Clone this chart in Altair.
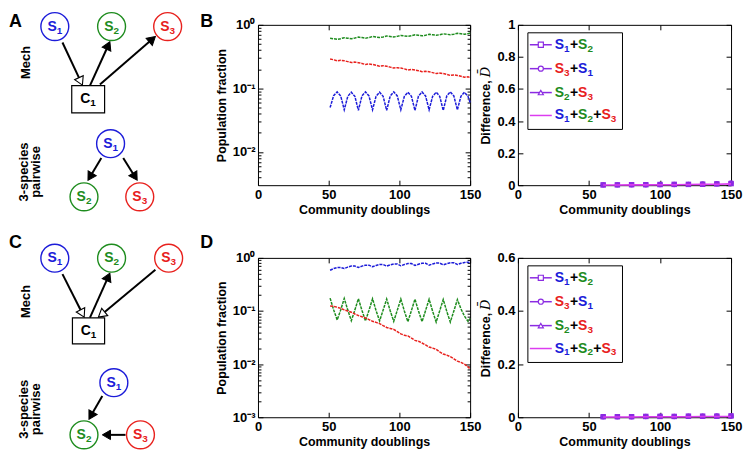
import math
import altair as alt
import pandas as pd

FONT = "Liberation Sans"
BLUE = "#1c1cd9"
GREEN = "#1e8c1e"
RED = "#e8211d"
PURPLE = "#8b2be2"
MAGENTA = "#dc3cf0"
SPC = {"1": BLUE, "2": GREEN, "3": RED}

# ---------------- data ----------------
T = [51, 53.5, 56, 58.5, 61, 63.5, 66, 68.5, 71, 73.5, 76, 78.5, 81, 83.5, 86, 88.5,
     91, 93.5, 96, 98.5, 101, 103.5, 106, 108.5, 111, 113.5, 116, 118.5, 121, 123.5,
     126, 128.5, 131, 133.5, 136, 138.5, 141, 143.5, 146, 148.5, 150]

B_S1 = [0.050, 0.077, 0.088, 0.076, 0.046, 0.075, 0.087, 0.075, 0.045, 0.076, 0.088, 0.076,
        0.046, 0.075, 0.087, 0.075, 0.045, 0.076, 0.088, 0.076, 0.046, 0.075, 0.087, 0.075,
        0.045, 0.076, 0.088, 0.076, 0.046, 0.075, 0.087, 0.075, 0.045, 0.076, 0.088, 0.076,
        0.046, 0.075, 0.087, 0.075, 0.060]
B_S2 = [0.615, 0.604, 0.592, 0.606, 0.628, 0.617, 0.605, 0.619, 0.641, 0.630, 0.618, 0.632,
        0.655, 0.643, 0.631, 0.645, 0.668, 0.657, 0.644, 0.659, 0.682, 0.670, 0.658, 0.672,
        0.695, 0.684, 0.671, 0.686, 0.709, 0.697, 0.685, 0.699, 0.722, 0.711, 0.698, 0.713,
        0.736, 0.724, 0.712, 0.727, 0.745]
B_S3 = [0.290, 0.282, 0.272, 0.276, 0.272, 0.264, 0.255, 0.259, 0.254, 0.247, 0.238, 0.242,
        0.238, 0.231, 0.223, 0.227, 0.223, 0.216, 0.209, 0.212, 0.209, 0.203, 0.195, 0.199,
        0.195, 0.190, 0.183, 0.186, 0.183, 0.177, 0.171, 0.174, 0.171, 0.166, 0.160, 0.163,
        0.160, 0.155, 0.150, 0.152, 0.148]

D_S1 = [0.585, 0.63, 0.66, 0.66, 0.63, 0.67, 0.70, 0.70, 0.66, 0.70, 0.73, 0.73,
        0.68, 0.72, 0.75, 0.75, 0.70, 0.74, 0.77, 0.77, 0.71, 0.75, 0.78, 0.78,
        0.72, 0.76, 0.79, 0.79, 0.73, 0.77, 0.80, 0.80, 0.74, 0.78, 0.81, 0.81,
        0.75, 0.79, 0.82, 0.83, 0.81]
D_S2 = [0.175, 0.105, 0.068, 0.105, 0.172, 0.104, 0.066, 0.104, 0.170, 0.103, 0.065, 0.103,
        0.170, 0.102, 0.065, 0.104, 0.168, 0.101, 0.064, 0.103, 0.168, 0.100, 0.063, 0.102,
        0.167, 0.100, 0.063, 0.102, 0.166, 0.099, 0.062, 0.101, 0.165, 0.098, 0.062, 0.100,
        0.164, 0.110, 0.080, 0.064, 0.072]
D_S3 = [0.124, 0.122, 0.118, 0.112, 0.105, 0.100, 0.095, 0.088, 0.082, 0.078, 0.074, 0.069,
        0.064, 0.061, 0.058, 0.053, 0.049, 0.047, 0.045, 0.041, 0.037, 0.035, 0.034, 0.031,
        0.028, 0.027, 0.025, 0.023, 0.021, 0.020, 0.019, 0.017, 0.0155, 0.0148, 0.0138, 0.0126,
        0.0114, 0.0108, 0.0100, 0.0089, 0.0080]

TD = [60, 70, 80, 90, 100, 110, 120, 130, 140, 150]
B_D12 = [0.002, 0.002, 0.003, 0.003, 0.004, 0.005, 0.005, 0.006, 0.008, 0.010]
B_D31 = [0.002, 0.002, 0.002, 0.003, 0.004, 0.004, 0.005, 0.007, 0.009, 0.014]
B_D23 = [0.002, 0.003, 0.003, 0.004, 0.005, 0.005, 0.006, 0.007, 0.009, 0.011]
B_D123 = [0.001, 0.001, 0.002, 0.002, 0.003, 0.003, 0.004, 0.005, 0.006, 0.008]
D_D12 = [0.002, 0.002, 0.002, 0.003, 0.003, 0.003, 0.004, 0.004, 0.004, 0.005]
D_D31 = [0.002, 0.002, 0.002, 0.003, 0.004, 0.003, 0.004, 0.004, 0.005, 0.005]
D_D23 = [0.002, 0.002, 0.003, 0.003, 0.004, 0.004, 0.004, 0.005, 0.005, 0.006]
D_D123 = [0.001, 0.001, 0.001, 0.002, 0.002, 0.002, 0.002, 0.003, 0.003, 0.003]

LEGEND_LABELS = ["S1+S2", "S3+S1", "S2+S3", "S1+S2+S3"]
LEGEND_SHAPES = ["square", "circle", "triangle-up", ""]

XTICKS = [0, 50, 100, 150]
B_MAJOR = [0.01, 0.1, 1]
B_MINOR = [0.004, 0.005, 0.006, 0.007, 0.008, 0.009, 0.02, 0.03, 0.04, 0.05, 0.06, 0.07,
           0.08, 0.09, 0.2, 0.3, 0.4, 0.5, 0.6, 0.7, 0.8, 0.9]
D_MAJOR = [0.001, 0.01, 0.1, 1]
D_MINOR = [0.002, 0.003, 0.004, 0.005, 0.006, 0.007, 0.008, 0.009, 0.02, 0.03, 0.04, 0.05,
           0.06, 0.07, 0.08, 0.09, 0.2, 0.3, 0.4, 0.5, 0.6, 0.7, 0.8, 0.9]

# diagram contents (panel-local units: 1 unit = 1 px, y downward)
A_NODES = [("1", BLUE, 46, 1.7), ("2", GREEN, 103, 1.7), ("3", RED, 159.3, 1.7),
           ("1", BLUE, 102, 119.3), ("2", GREEN, 75.3, 172.7), ("3", RED, 131.3, 172.7)]
A_BOX = (63, 61, 96, 88.3)
A_ARROWS = [(53.7, 17.7, 73.7, 60.5, "open"), (81.3, 61, 101.3, 17, "fill"),
            (91.3, 60, 147, 11.7, "fill"), (92.7, 133.7, 79.3, 156, "fill"),
            (114.7, 133.7, 128.7, 156, "fill")]
A_SIDE = [("Mech", 17, 37.7), ("3-species", 15.3, 147.7), ("pairwise", 27.3, 147.7)]
A_LETTERS = [("A", 0, -12), ("B", 192, -12)]

C_NODES = [("1", BLUE, 46, 0.3), ("2", GREEN, 103, 0.3), ("3", RED, 160.3, 0.3),
           ("1", BLUE, 105.3, 125.3), ("2", GREEN, 75.3, 177.7), ("3", RED, 132, 177.7)]
C_BOX = (63.7, 60.3, 96, 86.3)
C_ARROWS = [(53.7, 16.3, 75.5, 59.5, "open"), (81.3, 60, 101.3, 15.3, "fill"),
            (147, 12, 89.8, 59.5, "open"), (93.7, 138.7, 80.3, 162, "fill"),
            (117, 177.7, 93.7, 177.7, "fill")]
C_SIDE = [("Mech", 17, 43.7), ("3-species", 15.3, 152), ("pairwise", 27.3, 152)]
C_LETTERS = [("C", 0, -24), ("D", 192, -24)]

# ---------------- layout ----------------
W_DIA, W_POP, W_DIF = 202, 213, 214
H_TOP, H_BOT = 161, 160
HEAD_SIZE = 90


def diagram(nodes, box, arrows, sides, letters, H):
    W = W_DIA
    xs = alt.Scale(domain=[0, W], nice=False, zero=False)
    ys = alt.Scale(domain=[0, H], nice=False, zero=False, reverse=True)

    def X(f):
        return alt.X(f, type="quantitative", scale=xs, axis=None)

    def Y(f):
        return alt.Y(f, type="quantitative", scale=ys, axis=None)

    r = math.sqrt(HEAD_SIZE) / 2
    h = math.sqrt(3) * r / 2
    shafts, heads = [], []
    for (x1, y1, x2, y2, kind) in arrows:
        dx, dy = x2 - x1, y2 - y1
        L = math.hypot(dx, dy)
        ux, uy = dx / L, dy / L
        shafts.append(dict(x=x1, y=y1, x2=x2 - 1.8 * h * ux, y2=y2 - 1.8 * h * uy))
        ang = math.degrees(math.atan2(dx, -dy)) % 360
        heads.append(dict(x=x2 - h * ux, y=y2 - h * uy, ang=ang, kind=kind))
    shafts = pd.DataFrame(shafts)
    heads = pd.DataFrame(heads)

    l_shaft = alt.Chart(shafts).mark_rule(color="black", strokeWidth=2).encode(
        x=X("x"), y=Y("y"), x2="x2:Q", y2="y2:Q")
    l_hfill = alt.Chart(heads[heads.kind == "fill"]).mark_point(
        shape="triangle-up", size=HEAD_SIZE, filled=True, fill="black", stroke="black",
        strokeWidth=1, opacity=1).encode(x=X("x"), y=Y("y"), angle=alt.Angle("ang:Q", scale=None))
    l_hopen = alt.Chart(heads[heads.kind == "open"]).mark_point(
        shape="triangle-up", size=HEAD_SIZE, filled=True, fill="white", stroke="black",
        strokeWidth=1.1, opacity=1).encode(x=X("x"), y=Y("y"), angle=alt.Angle("ang:Q", scale=None))

    bdf = pd.DataFrame([dict(x=box[0], y=box[1], x2=box[2], y2=box[3])])
    l_box = alt.Chart(bdf).mark_rect(fill="white", stroke="black", strokeWidth=1.2).encode(
        x=X("x"), y=Y("y"), x2="x2:Q", y2="y2:Q")

    ndf = pd.DataFrame([dict(x=n[2], y=n[3], col=n[1], sub=n[0]) for n in nodes])
    l_circ = alt.Chart(ndf).mark_point(shape="circle", size=784, filled=True, fill="white",
                                       strokeWidth=1.4, opacity=1).encode(
        x=X("x"), y=Y("y"), stroke=alt.Stroke("col:N", scale=None))

    labs = []
    for n in nodes:
        labs.append(dict(x=n[2] + 1.9, y=n[3], t="S", col=n[1], big=1))
        labs.append(dict(x=n[2] + 1.9, y=n[3] + 4, t=n[0], col=n[1], big=0))
    bx, by = (box[0] + box[2]) / 2, (box[1] + box[3]) / 2
    labs.append(dict(x=bx + 2.2, y=by, t="C", col="black", big=1))
    labs.append(dict(x=bx + 2.2, y=by + 4, t="1", col="black", big=0))
    ldf = pd.DataFrame(labs)
    l_big = alt.Chart(ldf[ldf.big == 1]).mark_text(
        font=FONT, fontWeight="bold", fontSize=14, align="right", baseline="middle").encode(
        x=X("x"), y=Y("y"), text="t:N", color=alt.Color("col:N", scale=None))
    l_sub = alt.Chart(ldf[ldf.big == 0]).mark_text(
        font=FONT, fontWeight="bold", fontSize=10, align="left", baseline="middle").encode(
        x=X("x"), y=Y("y"), text="t:N", color=alt.Color("col:N", scale=None))

    sdf = pd.DataFrame([dict(t=s[0], x=s[1], y=s[2]) for s in sides])
    l_side = alt.Chart(sdf).mark_text(font=FONT, fontWeight="bold", fontSize=13, angle=270,
                                      align="center", baseline="middle", color="black").encode(
        x=X("x"), y=Y("y"), text="t:N")
    tdf = pd.DataFrame([dict(t=s[0], x=s[1], y=s[2]) for s in letters])
    l_let = alt.Chart(tdf).mark_text(font=FONT, fontWeight="bold", fontSize=18,
                                     align="left", baseline="top", color="black").encode(
        x=X("x"), y=Y("y"), text="t:N")

    return alt.layer(l_shaft, l_hfill, l_hopen, l_box, l_circ, l_big, l_sub, l_side, l_let).properties(
        width=W, height=H, view=alt.ViewBackground(stroke="transparent"))


def pop_panel(s1, s2, s3, ymin, majors, minors, H):
    n = len(T)
    assert len(s1) == n and len(s2) == n and len(s3) == n
    df = pd.DataFrame({"t": T * 3, "v": s1 + s2 + s3, "sp": ["S1"] * n + ["S2"] * n + ["S3"] * n})
    xs = alt.Scale(domain=[0, 150], nice=False, zero=False)
    ys = alt.Scale(type="log", domain=[ymin, 1], nice=False)
    cs = alt.Scale(domain=["S1", "S2", "S3"], range=[BLUE, GREEN, RED])
    lab = ("datum.value > 0.5 ? '10\u2070' : datum.value > 0.05 ? '10\u207b\u00b9' : "
           "datum.value > 0.005 ? '10\u207b\u00b2' : '10\u207b\u00b3'")
    lines = alt.Chart(df).mark_line(strokeWidth=1.5, strokeDash=[3, 1]).encode(
        x=alt.X("t:Q", scale=xs, axis=alt.Axis(orient="bottom", values=XTICKS, tickSize=5, offset=-5,
                                               labelFlush=False, labelPadding=3,
                                               title="Community doublings", titlePadding=2)),
        y=alt.Y("v:Q", scale=ys, axis=alt.Axis(orient="left", values=majors, tickSize=5, offset=-5,
                                               labelExpr=lab, labelPadding=3,
                                               title="Population fraction", titlePadding=4)),
        color=alt.Color("sp:N", scale=cs, legend=None))
    mirror = alt.Chart(df).mark_point(opacity=0).encode(
        x=alt.X("t:Q", scale=xs, axis=alt.Axis(orient="top", values=XTICKS, tickSize=5, offset=-5,
                                               labels=False, title=None)),
        y=alt.Y("v:Q", scale=ys, axis=alt.Axis(orient="right", values=majors, tickSize=5, offset=-5,
                                               labels=False, title=None)))
    minl = alt.Chart(df).mark_point(opacity=0).encode(
        x=alt.X("t:Q", scale=xs, axis=None),
        y=alt.Y("v:Q", scale=ys, axis=alt.Axis(orient="left", values=minors, tickSize=3, offset=-3,
                                               labels=False, title=None)))
    minr = alt.Chart(df).mark_point(opacity=0).encode(
        x=alt.X("t:Q", scale=xs, axis=None),
        y=alt.Y("v:Q", scale=ys, axis=alt.Axis(orient="right", values=minors, tickSize=3, offset=-3,
                                               labels=False, title=None)))
    return alt.layer(lines, mirror, minl, minr).resolve_axis(
        x="independent", y="independent").properties(width=W_POP, height=H)


def diff_panel(d12, d31, d23, d123, ymax, yvals, H):
    W = W_DIF
    xs = alt.Scale(domain=[0, 150], nice=False, zero=False)
    ys = alt.Scale(domain=[0, ymax], nice=False, zero=False)

    def X(f, axis=None):
        return alt.X(f, type="quantitative", scale=xs, axis=axis)

    def Y(f, axis=None):
        return alt.Y(f, type="quantitative", scale=ys, axis=axis)

    def px_x(px):
        return px * 150.0 / W

    def px_y(py):
        return ymax * (1 - py / H)

    def sdf(vals):
        return pd.DataFrame({"t": TD, "v": vals})

    sq = alt.Chart(sdf(d12)).mark_point(shape="square", filled=True, size=30, color=PURPLE, opacity=1).encode(
        x=X("t", alt.Axis(orient="bottom", values=XTICKS, tickSize=5, offset=-5, labelFlush=False,
                          labelPadding=3, title="Community doublings", titlePadding=2)),
        y=Y("v", alt.Axis(orient="left", values=yvals, tickSize=5, offset=-5, format="~g",
                          labelPadding=3, title="Difference,", titlePadding=4, titleY=H / 2 + 7)))
    ci = alt.Chart(sdf(d31)).mark_point(shape="circle", filled=True, size=30, color=PURPLE, opacity=1).encode(
        x=X("t"), y=Y("v"))
    tr = alt.Chart(sdf(d23)).mark_point(shape="triangle-up", filled=True, size=30, color=PURPLE, opacity=1).encode(
        x=X("t"), y=Y("v"))
    ln = alt.Chart(sdf(d123)).mark_line(color=MAGENTA, strokeWidth=1.6).encode(x=X("t"), y=Y("v"))
    mirror = alt.Chart(sdf(d12)).mark_point(opacity=0).encode(
        x=X("t", alt.Axis(orient="top", values=XTICKS, tickSize=5, offset=-5, labels=False, title=None)),
        y=Y("v", alt.Axis(orient="right", values=yvals, tickSize=5, offset=-5, labels=False, title=None)))

    # italic D with bar, continuing the rotated axis title
    dbar = pd.DataFrame([dict(x=px_x(-32.5), y=px_y(H / 2 - 33), t="D\u0304")])
    l_dbar = alt.Chart(dbar).mark_text(font="DejaVu Serif", fontStyle="italic", fontSize=13,
                                       angle=270, align="center", baseline="middle",
                                       color="black").encode(x=X("x"), y=Y("y"), text="t:N")

    # legend (pixel layout converted to data units)
    rows_py = [20, 44, 68, 91]
    box = pd.DataFrame([dict(x=px_x(10), x2=px_x(105), y=px_y(8), y2=px_y(105))])
    l_box = alt.Chart(box).mark_rect(fill="white", stroke="black", strokeWidth=1).encode(
        x=X("x"), x2="x2:Q", y=Y("y"), y2="y2:Q")
    rules = pd.DataFrame([dict(x=px_x(12), x2=px_x(34), y=px_y(py),
                               col=(MAGENTA if i == 3 else PURPLE)) for i, py in enumerate(rows_py)])
    l_rule = alt.Chart(rules).mark_rule(strokeWidth=1.5).encode(
        x=X("x"), x2="x2:Q", y=Y("y"), color=alt.Color("col:N", scale=None))
    mk = pd.DataFrame([dict(x=px_x(23), y=px_y(rows_py[i]), shp=LEGEND_SHAPES[i]) for i in range(3)])
    l_mk = alt.Chart(mk).mark_point(filled=True, fill="white", size=26, strokeWidth=1.2, stroke=PURPLE,
                                    opacity=1).encode(
        x=X("x"), y=Y("y"), shape=alt.Shape("shp:N", scale=None))
    toks = []
    for lbl, py in zip(LEGEND_LABELS, rows_py):
        x = 37.0
        i = 0
        while i < len(lbl):
            c = lbl[i]
            if c == "S":
                col = SPC[lbl[i + 1]]
                toks.append(dict(x=px_x(x), y=px_y(py), t="S", col=col, fs=14))
                x += 9.34
                toks.append(dict(x=px_x(x), y=px_y(py + 4), t=lbl[i + 1], col=col, fs=10))
                x += 5.9
                i += 2
            else:
                toks.append(dict(x=px_x(x), y=px_y(py), t="+", col="black", fs=14))
                x += 8.18
                i += 1
    l_txt = alt.Chart(pd.DataFrame(toks)).mark_text(
        font=FONT, fontWeight="bold", align="left", baseline="middle").encode(
        x=X("x"), y=Y("y"), text="t:N", color=alt.Color("col:N", scale=None),
        size=alt.Size("fs:Q", scale=None))

    return alt.layer(sq, ci, tr, ln, mirror, l_dbar, l_box, l_rule, l_mk, l_txt).resolve_axis(
        x="independent", y="independent").properties(width=W, height=H)


pA = diagram(A_NODES, A_BOX, A_ARROWS, A_SIDE, A_LETTERS, H_TOP)
pB = pop_panel(B_S1, B_S2, B_S3, 0.003, B_MAJOR, B_MINOR, H_TOP)
pB2 = diff_panel(B_D12, B_D31, B_D23, B_D123, 1.0, [0, 0.2, 0.4, 0.6, 0.8, 1.0], H_TOP)
pC = diagram(C_NODES, C_BOX, C_ARROWS, C_SIDE, C_LETTERS, H_BOT)
pD = pop_panel(D_S1, D_S2, D_S3, 0.001, D_MAJOR, D_MINOR, H_BOT)
pD2 = diff_panel(D_D12, D_D31, D_D23, D_D123, 0.6, [0, 0.2, 0.4, 0.6], H_BOT)

chart = alt.concat(pA, pB, pB2, pC, pD, pD2, columns=3,
                   spacing={"row": 73, "column": 48}, bounds="flush", align="each").properties(
    padding=0
).configure_axis(
    labelFont=FONT, labelFontSize=13, labelFontWeight="bold", labelColor="black",
    titleFont=FONT, titleFontSize=12.5, titleFontWeight="bold", titleColor="black",
    tickColor="black", tickWidth=1, grid=False, domain=False
).configure_view(stroke="black", strokeWidth=1)

chart.save("out.html", embed_options={"renderer": "svg", "actions": False})
